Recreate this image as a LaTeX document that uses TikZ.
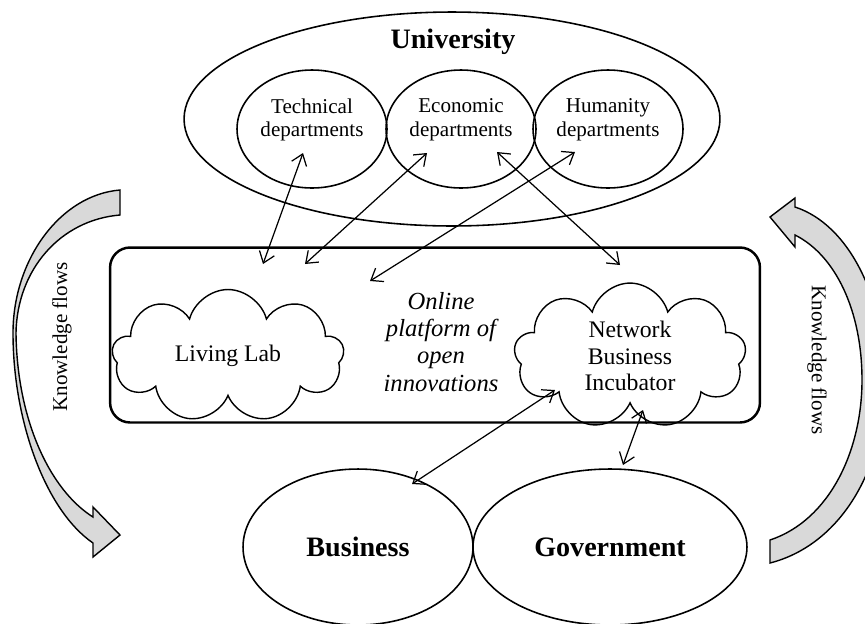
\documentclass[tikz,border=0pt]{standalone}
\usepackage{fontspec}
\setmainfont{Liberation Serif}
\usetikzlibrary{shapes,arrows.meta}
\tikzset{
	bigell/.style={ellipse,draw,line width=0.9pt,inner sep=0},
	dept/.style={bigell,minimum width=3cm,minimum height=2.36cm},
	depttext/.style={align=center,font=\fontsize{12}{13.5}\selectfont},
	actor/.style={bigell,minimum height=3.12cm,font=\fontsize{16}{18}\selectfont\bfseries},
	puff/.style={cloud,cloud puffs=9,cloud ignores aspect,draw,line width=0.8pt,minimum width=4.64cm,minimum height=2.66cm,align=center,font=\fontsize{13.5}{15}\selectfont},
	link/.style={<->,>={Straight Barb[length=6pt,width=9pt]},line width=0.7pt},
	flow/.style={draw,line width=0.8pt,fill=black!15},
	flowlabel/.style={font=\fontsize{12}{14}\selectfont}
}
\begin{document}
\begin{tikzpicture}[x=0.02cm,y=-0.02cm]
	\useasboundingbox (0,0) rectangle (865,623);
	\clip (0,0) rectangle (865,623);
	
	%%%% university
	\node[bigell,minimum width=10.72cm,minimum height=4.28cm] (univ) at (452,119) {};
	\node[font=\fontsize{16}{18}\selectfont\bfseries] (univtitle) at (453,42) {University};
	\node[dept] (tech) at (312,129) {};
	\node[dept] (econ) at (461,129) {};
	\node[dept] (human) at (608,129) {};
	\node[depttext] (techtext) at (312,120) {Technical\\departments};
	\node[depttext] (econtext) at (461,120) {Economic\\departments};
	\node[depttext] (humantext) at (608,120) {Humanity\\departments};
	
	%%%% platform
	\node[draw,line width=1.4pt,rounded corners=0.4cm,minimum width=13cm,minimum height=3.5cm] (platform) at (435,335) {};
	\node[puff] (livinglab) at (228,356) {Living Lab};
	\node[puff] (incubator) at (630,356) {Network\\Business\\Incubator};
	\node[align=center,font=\fontsize{14}{15.4}\selectfont\itshape] (online) at (441,342) {Online\\platform of\\open\\innovations};
	
	%%%% business and government
	\node[actor,minimum width=4.6cm] (business) at (358,547) {Business};
	\node[actor,minimum width=5.48cm] (gov) at (610,547) {Government};
	
	%%%% knowledge flows
	\path[flow] (120,190) .. controls (60,195) and (13,260) .. (13,333) .. controls (13,420) and (45,510) .. (93,543)
		-- (93,557) -- (120,535) -- (93,507) -- (93,517)
		.. controls (50,490) and (17,420) .. (16,333) .. controls (17,270) and (60,220) .. (120,215) -- cycle;
	\path[flow] (770,563) -- (770,540) .. controls (830,520) and (862,450) .. (862,380) .. controls (862,310) and (835,255) .. (795,235)
		-- (795,247) -- (770,217) -- (795,198) -- (795,207)
		.. controls (850,225) and (885,300) .. (885,380) .. controls (885,470) and (840,545) .. (770,563) -- cycle;
	\node[flowlabel,rotate=90] (flowleft) at (62,337) {Knowledge flows};
	\node[flowlabel,rotate=-90] (flowright) at (817,360) {Knowledge flows};
	
	%%%% links
	\coordinate (t1) at (303,153);
	\coordinate (t2) at (263,264);
	\coordinate (e1) at (427,153);
	\coordinate (e2) at (305,264);
	\coordinate (h1) at (575,152);
	\coordinate (h2) at (370,281);
	\coordinate (e3) at (497,152);
	\coordinate (e4) at (620,265);
	\coordinate (n1) at (555,390);
	\coordinate (b1) at (412,484);
	\coordinate (n2) at (643,410);
	\coordinate (g1) at (623,465);
	\draw[link] (t1) -- (t2);
	\draw[link] (e1) -- (e2);
	\draw[link] (h1) -- (h2);
	\draw[link] (e3) -- (e4);
	\draw[link] (n1) -- (b1);
	\draw[link] (n2) -- (g1);
\end{tikzpicture}
\end{document}
